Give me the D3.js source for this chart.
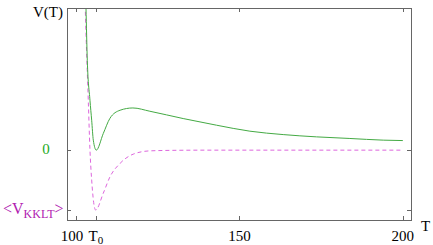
<!DOCTYPE html>
<html>
<head>
<meta charset="utf-8">
<script src="https://cdn.jsdelivr.net/npm/d3@7"></script>
<style>
  body { margin: 0; background: #fff; }
</style>
</head>
<body>
<div id="chart"></div>
<script>
// potential with uplift (green, solid)
const upliftT = [102.5, 103.06, 103.46, 104.28, 104.8, 105.3, 106.2, 108.35, 110.4, 113.5, 117.4, 122.6, 132.8, 143, 153.2, 163.4, 173.6, 183.8, 194, 200];
const upliftV = [3.6, 2.375, 1.5, 0.833, 0.5, 0.167, 0, 0.278, 0.533, 0.667, 0.705, 0.65, 0.528, 0.417, 0.317, 0.26, 0.222, 0.195, 0.167, 0.16];

// plain KKLT potential (magenta, dashed)
const kkltT = [102.3, 102.84, 103.76, 104.28, 104.8, 106.0, 108.35, 110.4, 113.5, 117.5, 122.6, 130, 140, 160, 200];
const kkltV = [3.6, 2.375, 0.833, 0, -0.5, -1, -0.72, -0.445, -0.22, -0.067, -0.012, -0.003, 0, 0, 0];

const xTicks = [100, 106.1, 150, 200];
const xTickLabels = ["100", "T0", "150", "200"];
const yTicks = [0, -1];

const width = 433, height = 245;
const margin = {left: 67, right: 22, top: 8, bottom: 25};
const serif = '"Liberation Serif", "Times New Roman", Times, "DejaVu Serif", serif';

const x = d3.scaleLinear().domain([97.25, 202.5]).range([margin.left, width - margin.right]);
const y = d3.scaleLinear().domain([-1.167, 2.375]).range([height - margin.bottom, margin.top]);

const svg = d3.select("#chart").append("svg")
    .attr("width", width)
    .attr("height", height)
    .style("font-family", serif);

svg.append("clipPath").attr("id", "clip")
  .append("rect")
    .attr("x", x.range()[0]).attr("y", y.range()[1])
    .attr("width", x.range()[1] - x.range()[0])
    .attr("height", y.range()[0] - y.range()[1]);

const line = d3.line()
    .x(d => x(d[0]))
    .y(d => y(d[1]))
    .curve(d3.curveMonotoneX);

svg.append("path")
    .datum(kkltT.map((t, i) => [t, kkltV[i]]))
    .attr("clip-path", "url(#clip)")
    .attr("d", line)
    .style("fill", "none")
    .style("stroke", "#dd66dd")
    .style("stroke-width", 1)
    .style("stroke-dasharray", "4,3");

svg.append("path")
    .datum(upliftT.map((t, i) => [t, upliftV[i]]))
    .attr("clip-path", "url(#clip)")
    .attr("d", line)
    .style("fill", "none")
    .style("stroke", "#44aa44")
    .style("stroke-width", 1);

// frame
svg.append("rect")
    .attr("x", x.range()[0] + 0.5).attr("y", y.range()[1] + 0.5)
    .attr("width", x.range()[1] - x.range()[0])
    .attr("height", y.range()[0] - y.range()[1])
    .style("fill", "none")
    .style("stroke", "#666")
    .style("stroke-width", 1);

// inward ticks on all four sides
const tickLen = 4;
const g = svg.append("g").style("stroke", "#666").style("stroke-width", 1);
xTicks.forEach(t => {
  const px = Math.round(x(t)) + 0.5;
  g.append("line").attr("x1", px).attr("x2", px)
    .attr("y1", y.range()[0]).attr("y2", y.range()[0] - tickLen);
  g.append("line").attr("x1", px).attr("x2", px)
    .attr("y1", y.range()[1]).attr("y2", y.range()[1] + tickLen);
});
yTicks.forEach(v => {
  const py = Math.round(y(v)) + 0.5;
  g.append("line").attr("x1", x.range()[0]).attr("x2", x.range()[0] + tickLen)
    .attr("y1", py).attr("y2", py);
  g.append("line").attr("x1", x.range()[1]).attr("x2", x.range()[1] - tickLen)
    .attr("y1", py).attr("y2", py);
});

// x tick labels
xTicks.forEach((t, i) => {
  const lab = svg.append("text")
    .attr("x", x(t) + (i === 0 ? -4 : 0))
    .attr("y", 241)
    .style("font-size", "15px")
    .style("fill", "#000")
    .style("text-anchor", "middle");
  if (xTickLabels[i] === "T0") {
    lab.append("tspan").text("T");
    lab.append("tspan").attr("dy", 3).style("font-size", "11px").text("0");
  } else {
    lab.text(xTickLabels[i]);
  }
});

// y tick labels
svg.append("text")
    .attr("x", 46).attr("y", y(0) + 4)
    .style("font-size", "15px")
    .style("fill", "#22aa22")
    .style("text-anchor", "middle")
    .text("0");

const vk = svg.append("text")
    .attr("x", 3).attr("y", y(-1) + 4)
    .style("font-size", "16px")
    .style("fill", "#b020b0");
vk.append("tspan").text("<V");
vk.append("tspan").attr("dy", 4).style("font-size", "12px").text("KKLT");
vk.append("tspan").attr("dy", -4).text(">");

// axis titles
svg.append("text")
    .attr("x", 63).attr("y", 17)
    .style("font-size", "15px")
    .style("text-anchor", "end")
    .text("V(T)");

svg.append("text")
    .attr("x", 421).attr("y", 231)
    .style("font-size", "15px")
    .text("T");
</script>
</body>
</html>
